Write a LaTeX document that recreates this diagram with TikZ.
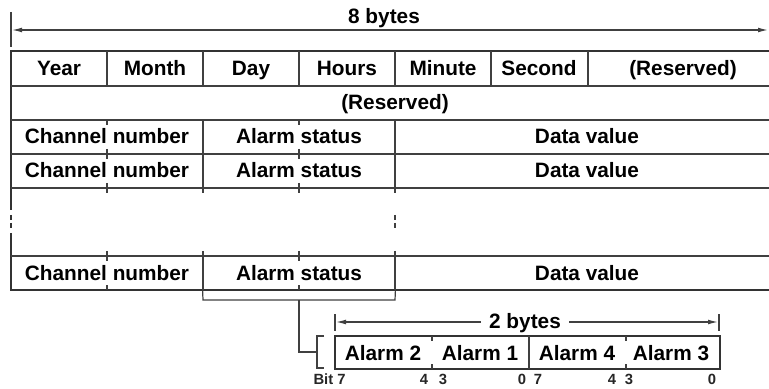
\documentclass[tikz,border=0pt]{standalone}
\usepackage{fontspec}
\setmainfont{Liberation Sans}
\usetikzlibrary{arrows.meta}
\begin{document}
\begin{tikzpicture}[x=0.5pt,y=-0.5pt,
  lbl/.style={font=\fontsize{10.4}{12}\selectfont\bfseries, inner sep=0pt, text=black, text height=9pt, text depth=2pt},
  bitlbl/.style={font=\fontsize{7.4}{8}\selectfont\bfseries, inner sep=0pt, text=black!85, text height=5.4pt, text depth=0pt},
  cell/.style={inner sep=0pt, draw=none},
  thin/.style={line width=0.6pt, draw=black!75},
  outer/.style={line width=1pt, draw=black!80},
  dim/.style={line width=0.6pt, draw=black!75, {Latex[length=5pt,width=2.4pt]}-{Latex[length=5pt,width=2.4pt]}},
]
\useasboundingbox (0,0) rectangle (769,389);

% ---------- 8 bytes dimension ----------
\node[lbl] (eight) at (384,17) {8 bytes};
\coordinate (dl) at (12,30);
\coordinate (dr) at (768,30);
\draw[thin] (11,12) -- (11,47);
\draw[dim] (dl) -- (dr);

% ---------- main table frame ----------
\draw[outer] (769,51) -- (11,51) -- (11,210);
\draw[outer] (11,233) -- (11,290) -- (769,290);
\draw[outer] (11,215) -- (11,220) (11,223) -- (11,228);
\foreach \y in {86,120,154,188,256} \draw[thin] (11,\y) -- (769,\y);

% row 1 separators
\foreach \x in {107,203,299,395,491,588} \draw[thin] (\x,51) -- (\x,86);

% rows 3, 4, 6
\foreach \a/\b in {120/154,154/188,256/290}{
  \draw[thin] (203,\a) -- (203,\b) (395,\a) -- (395,\b);
  \foreach \x in {107,299}
    \draw[thin] (\x,\a) -- (\x,\a+5) (\x,\b-5) -- (\x,\b);
}
% row 5 (gap)
\foreach \x in {107,203,299,395}
  \draw[thin] (\x,188) -- (\x,193) (\x,251) -- (\x,256);
\draw[thin] (395,215) -- (395,220) (395,223) -- (395,228);

% ---------- table texts ----------
\node[lbl] (year)   at (59,69)  {Year};
\node[lbl] (month)  at (155,69) {Month};
\node[lbl] (day)    at (251,69) {Day};
\node[lbl] (hours)  at (347,69) {Hours};
\node[lbl] (minute) at (443,69) {Minute};
\node[lbl] (second) at (539,69) {Second};
\node[lbl] (res1)   at (683,69) {(Reserved)};
\node[lbl] (res2)   at (395,103) {(Reserved)};
\foreach \r/\y in {a/137,b/171,c/273}{
  \node[lbl] (ch\r) at (107,\y) {Channel number};
  \node[lbl] (al\r) at (299,\y) {Alarm status};
  \node[lbl] (dv\r) at (587,\y) {Data value};
}
% invisible cell for the last Alarm status field
\node[cell, minimum width=96pt, minimum height=17pt] (ascell) at (299,273) {};

% ---------- bracket and connector ----------
\coordinate (bl) at (203,300);
\coordinate (br) at (395,300);
\coordinate (bm) at (299,300);
\draw[thin] (ascell.south west) -- (bl) -- (br) -- (ascell.south east);

% ---------- small table ----------
\node[cell, minimum width=192.5pt, minimum height=16.5pt] (small) at (527.5,352.5) {};
\draw[outer, line width=1.2pt] (335,336) rectangle (720,369);
\draw[thin] (529,336) -- (529,369);
\foreach \x in {432,626}
  \draw[thin] (\x,336) -- (\x,341) (\x,364) -- (\x,369);
\node[lbl] (a2) at (383,353) {Alarm 2};
\node[lbl] (a1) at (480,353) {Alarm 1};
\node[lbl] (a4) at (577,353) {Alarm 4};
\node[lbl] (a3) at (671,353) {Alarm 3};

% bracket in front of the small table
\coordinate (sb) at (317,352);
\draw[thin] (bm) -- (299,352) -- (sb);
\draw[thin] (324,336) -- (317,336) -- (317,368) -- (324,368);

% 2 bytes dimension
\draw[thin] (335,314) -- (335,331) (719,314) -- (719,331);
\coordinate (tl) at (336,322);
\coordinate (tr) at (718,322);
\draw[dim] (tl) -- (tr);
\node[lbl, fill=white, inner xsep=4pt] (two) at (525,321) {2 bytes};

% bit numbers
\node[bitlbl, anchor=east] (bit7) at (346,379) {Bit 7};
\node[bitlbl] (b4a) at (424,379) {4};
\node[bitlbl] (b3a) at (443,379) {3};
\node[bitlbl] (b0a) at (522,379) {0};
\node[bitlbl] (b7b) at (538,379) {7};
\node[bitlbl] (b4b) at (612,379) {4};
\node[bitlbl] (b3b) at (629,379) {3};
\node[bitlbl] (b0b) at (712,379) {0};
\end{tikzpicture}
\end{document}
